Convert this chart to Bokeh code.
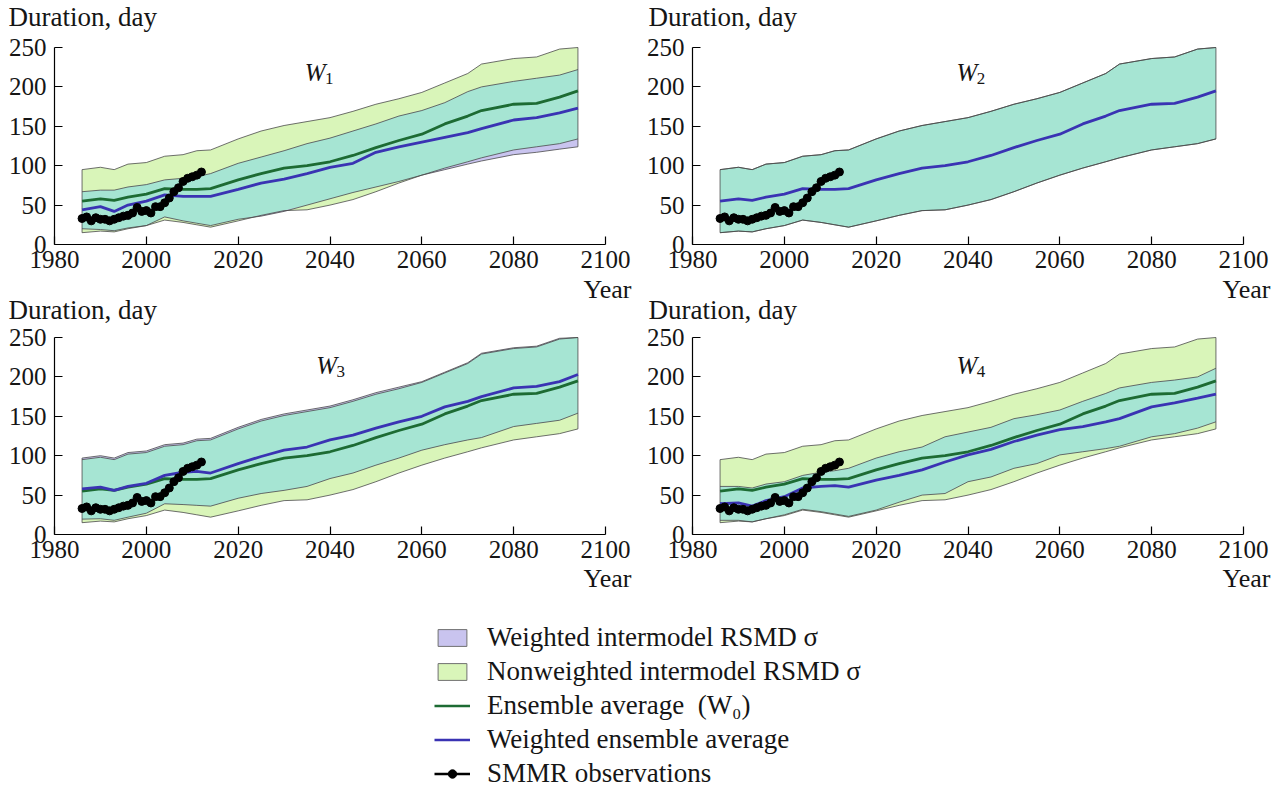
from bokeh.plotting import figure
from bokeh.models import (Label, Range1d, FixedTicker, Legend, LegendItem, ColumnDataSource,
                          LinearAxis)
from bokeh.embed import file_html
from bokeh.resources import INLINE

# ---------------- data ----------------
YEARS = [1986, 1990, 1993, 1996, 2000, 2004, 2008, 2011, 2014, 2020, 2025, 2030, 2035,
         2040, 2045, 2050, 2055, 2060, 2065, 2070, 2073, 2080, 2085, 2090, 2094]

# nonweighted intermodel band and ensemble average (W0)
NW_LO = [15, 17, 16, 20, 24, 31, 28, 25, 22, 30, 37, 43, 44, 50, 57, 67, 78, 88, 97, 105, 110, 120, 124, 128, 134]
NW_HI = [95, 98, 95, 102, 104, 112, 114, 119, 120, 134, 144, 151, 156, 161, 169, 178, 185, 193, 205, 217, 229, 236, 238, 248, 250]
MEAN = [55, 58, 56, 60, 64, 71, 70, 70, 71, 82, 90, 97, 100, 105, 113, 123, 132, 140, 153, 163, 170, 178, 179, 187, 195]

# W1 weighted
W1_LO = [20, 19, 17.5, 21, 24, 35, 30, 27, 24, 32, 36, 42, 50, 58, 66, 73, 80, 88, 95, 102, 106, 114, 117, 121, 124]
W1_HI = [67, 69, 69, 73, 76, 82, 84, 86, 90, 103, 111, 119, 128, 135, 144, 153, 163, 170, 180, 194, 200, 207, 211, 215, 222]
W1_MEAN = [44, 48, 42, 50, 55, 63, 61, 61, 61, 70, 78, 83, 90, 98, 103, 117, 124, 130, 136, 142, 147, 158, 161, 167, 173]

# W2 weighted (identical to nonweighted)
W2_LO = [15, 17, 16, 20, 24, 31, 28, 25, 22, 30, 37, 43, 44, 50, 57, 67, 78, 88, 97, 105, 110, 120, 124, 128, 134]
W2_HI = [95, 98, 95, 102, 104, 112, 114, 119, 120, 134, 144, 151, 156, 161, 169, 178, 185, 193, 205, 217, 229, 236, 238, 248, 250]
W2_MEAN = [55, 58, 56, 60, 64, 71, 70, 70, 71, 82, 90, 97, 100, 105, 113, 123, 132, 140, 153, 163, 170, 178, 179, 187, 195]

# W3 weighted
W3_LO = [19.5, 20, 18, 22, 27, 39, 38, 37, 36, 46, 52, 56, 61, 71, 78, 88, 97, 107, 114, 120, 123, 137, 141, 145, 154]
W3_HI = [97, 100, 97, 104, 106, 114, 116, 121, 122, 136, 146, 153, 158, 163, 171, 180, 187, 194, 206, 218, 230, 237, 239, 249, 250]
W3_MEAN = [58, 60, 56, 61, 65, 75, 79, 80, 78, 90, 99, 107, 111, 120, 126, 135, 143, 150, 162, 169, 175, 186, 188, 194, 203]

# W4 weighted
W4_LO = [18, 18, 16, 20, 25, 32, 29, 26, 23, 31, 41, 50, 52, 67, 73, 84, 90, 101, 105, 109, 112, 124, 128, 135, 143]
W4_HI = [61, 61, 59, 64, 67, 75, 79, 81, 84, 97, 105, 111, 124, 130, 136, 147, 152, 158, 169, 179, 186, 193, 196, 200, 211]
W4_MEAN = [39, 40, 36, 43, 48, 59, 61, 62, 60, 69, 75, 82, 92, 101, 108, 118, 126, 133, 137, 143, 147, 162, 167, 173, 178]

# SMMR observations
OBS_YEARS = list(range(1986, 2013))
OBS = [33, 35, 30, 34, 32, 32, 30, 32, 34, 36, 37, 40, 47, 42, 43, 40, 48, 48, 53, 59, 67, 72, 80, 84, 86, 88, 92]

X_TICKS = [1980, 2000, 2020, 2040, 2060, 2080, 2100]
Y_TICKS = [0, 50, 100, 150, 200, 250]
X_MIN, X_MAX = 1980, 2100
Y_MIN, Y_MAX = 0, 250
PANEL_NAMES = ["1", "2", "3", "4"]

# ---------------- styles / geometry ----------------
C_LIGHT = "#d9f5b9"
C_PURPLE = "#c9c4ef"
C_TEAL = "#a6e5d3"
C_GREEN = "#1d6b33"
C_BLUE = "#3a33b3"
C_EDGE = "#4a4a4a"
TXT = "#151515"
FONT = "Liberation Serif"
W, H = 1280, 787

# pixel boxes of each panel's axes: left, right, top, bottom (from the page's top-left)
BOX = {"1": (54, 605, 47, 244), "2": (692, 1243, 47, 244),
       "3": (54, 605, 337, 534), "4": (692, 1243, 337, 534)}
# text anchors (page px): Duration label (x, y), Year label right edge (x, y), W label (year, day)
DUR_POS = {"1": (8, 16), "2": (648, 16), "3": (8, 309), "4": (648, 309)}
YEAR_POS = {"1": (631, 289), "2": (1270, 289), "3": (631, 578), "4": (1270, 578)}
W_POS = {"1": (2034.5, 218), "2": (2037.5, 218), "3": (2037.0, 214), "4": (2037.5, 214)}


def ranges(name):
    l, r, t, b = BOX[name]
    kx = (r - l) / (X_MAX - X_MIN)
    ky = (b - t) / (Y_MAX - Y_MIN)
    xr = Range1d(X_MIN - l / kx, X_MIN + (W - l) / kx)
    yr = Range1d(Y_MIN - (H - b) / ky, Y_MAX + t / ky)
    return xr, yr


xr1, yr1 = ranges("1")
p = figure(width=W, height=H, x_range=xr1, y_range=yr1, x_axis_type=None, y_axis_type=None,
           output_backend="svg", toolbar_location=None,
           min_border_left=0, min_border_right=0, min_border_top=0, min_border_bottom=0)
p.outline_line_color = None
p.background_fill_color = "white"
p.border_fill_color = "white"
for n in PANEL_NAMES[1:]:
    xr, yr = ranges(n)
    p.extra_x_ranges["x" + n] = xr
    p.extra_y_ranges["y" + n] = yr


def rn(n):
    return ("default", "default") if n == "1" else ("x" + n, "y" + n)


def add_panel(n, w_lo, w_hi, w_mean, show_green=True):
    xn, yn = rn(n)
    kw = dict(x_range_name=xn, y_range_name=yn)
    xax = LinearAxis(fixed_location=Y_MIN, bounds=(X_MIN, X_MAX), ticker=FixedTicker(ticks=X_TICKS), **kw)
    yax = LinearAxis(fixed_location=X_MIN, bounds=(Y_MIN, Y_MAX), ticker=FixedTicker(ticks=Y_TICKS), **kw)
    for ax in (xax, yax):
        ax.major_tick_in = 8
        ax.major_tick_out = 0
        ax.minor_tick_in = 0
        ax.minor_tick_out = 0
        ax.axis_line_color = "black"
        ax.axis_line_width = 1.2
        ax.major_tick_line_color = "black"
        ax.major_tick_line_width = 1.2
        ax.major_label_text_font = FONT
        ax.major_label_text_font_size = "25px"
        ax.major_label_text_color = TXT
    xax.major_label_standoff = 6
    yax.major_label_standoff = 8

    ov_lo = [max(a, b) for a, b in zip(NW_LO, w_lo)]
    ov_hi = [min(a, b) for a, b in zip(NW_HI, w_hi)]
    src = ColumnDataSource(dict(x=YEARS, nlo=NW_LO, nhi=NW_HI, wlo=w_lo, whi=w_hi,
                                olo=ov_lo, ohi=ov_hi, mean=MEAN, wmean=w_mean))
    p.varea(x="x", y1="nlo", y2="nhi", source=src, fill_color=C_LIGHT, **kw)
    p.varea(x="x", y1="wlo", y2="whi", source=src, fill_color=C_PURPLE, **kw)
    p.varea(x="x", y1="olo", y2="ohi", source=src, fill_color=C_TEAL, **kw)
    for col in ("nlo", "nhi", "wlo", "whi"):
        p.line(x="x", y=col, source=src, line_color=C_EDGE, line_width=0.8, **kw)
    ends = dict(x=[YEARS[0], YEARS[-1]],
                y0=[min(NW_LO[0], w_lo[0]), min(NW_LO[-1], w_lo[-1])],
                y1=[max(NW_HI[0], w_hi[0]), max(NW_HI[-1], w_hi[-1])])
    p.segment(x0="x", y0="y0", x1="x", y1="y1", source=ColumnDataSource(ends),
              line_color=C_EDGE, line_width=0.8, **kw)
    if show_green:
        p.line(x="x", y="mean", source=src, line_color=C_GREEN, line_width=2.8, **kw)
    p.line(x="x", y="wmean", source=src, line_color=C_BLUE, line_width=2.8, **kw)

    osrc = ColumnDataSource(dict(x=OBS_YEARS, y=OBS))
    p.line(x="x", y="y", source=osrc, line_color="black", line_width=2.5, **kw)
    p.scatter(x="x", y="y", source=osrc, size=8, fill_color="black", line_color="black", **kw)

    p.add_layout(xax, "below")
    p.add_layout(yax, "left")

    dx, dy = DUR_POS[n]
    p.add_layout(Label(x=dx, y=H - dy, x_units="screen", y_units="screen", text="Duration, day",
                       text_font=FONT, text_font_size="27px", text_baseline="alphabetic", text_color=TXT))
    yx, yy = YEAR_POS[n]
    p.add_layout(Label(x=yx, y=H - yy, x_units="screen", y_units="screen", text="Year",
                       text_font=FONT, text_font_size="26px", text_baseline="alphabetic",
                       text_align="right", text_color=TXT))
    wx, wy = W_POS[n]
    p.add_layout(Label(x=wx, y=wy, text="W", text_font=FONT, text_font_size="25px",
                       text_font_style="italic", text_baseline="alphabetic", text_color=TXT, **kw))
    p.add_layout(Label(x=wx + 4.4, y=wy - 7, text=n, text_font=FONT, text_font_size="17px",
                       text_baseline="alphabetic", text_color=TXT, **kw))


add_panel("1", W1_LO, W1_HI, W1_MEAN)
add_panel("2", W2_LO, W2_HI, W2_MEAN, show_green=False)
add_panel("3", W3_LO, W3_HI, W3_MEAN)
add_panel("4", W4_LO, W4_HI, W4_MEAN)

# ---------------- legend ----------------
nan = float("nan")
dummy = ColumnDataSource(dict(l=[nan], r=[nan], b=[nan], t=[nan], x=[nan], y=[nan]))
r_purple = p.quad(left="l", right="r", bottom="b", top="t", source=dummy, fill_color=C_PURPLE, line_color="#707070")
r_light = p.quad(left="l", right="r", bottom="b", top="t", source=dummy, fill_color=C_LIGHT, line_color="#707070")
r_green = p.line(x="x", y="y", source=dummy, line_color=C_GREEN, line_width=2.5)
r_blue = p.line(x="x", y="y", source=dummy, line_color=C_BLUE, line_width=2.5)
r_obs_l = p.line(x="x", y="y", source=dummy, line_color="black", line_width=2.5)
r_obs_s = p.scatter(x="x", y="y", source=dummy, size=6, fill_color="black", line_color="black")

legend = Legend(items=[
    LegendItem(label="Weighted intermodel RSMD \u03c3", renderers=[r_purple]),
    LegendItem(label="Nonweighted intermodel RSMD \u03c3", renderers=[r_light]),
    LegendItem(label="Ensemble average  (W\u2080)", renderers=[r_green]),
    LegendItem(label="Weighted ensemble average", renderers=[r_blue]),
    LegendItem(label="SMMR observations", renderers=[r_obs_l, r_obs_s]),
], location=(434, -2))
legend.label_text_font = FONT
legend.label_text_font_size = "27px"
legend.label_text_color = TXT
legend.glyph_width = 36
legend.glyph_height = 21
legend.label_height = 21
legend.label_standoff = 17
legend.spacing = 3
legend.padding = 0
legend.margin = 0
legend.border_line_color = None
legend.background_fill_alpha = 0
p.add_layout(legend)

open("out.html", "w").write(file_html(p, INLINE))
